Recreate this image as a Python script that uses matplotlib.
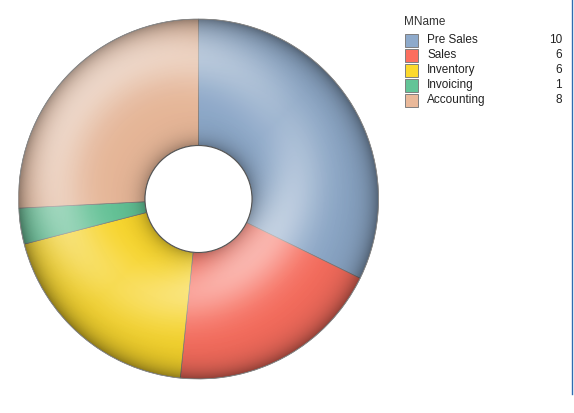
import numpy as np
import matplotlib.pyplot as plt
from matplotlib.patches import Rectangle, Wedge, Circle
from matplotlib.lines import Line2D

plt.rcParams["font.family"] = ["Liberation Sans", "DejaVu Sans"]

# data
names = ["Pre Sales", "Sales", "Inventory", "Invoicing", "Accounting"]
counts = [10, 6, 6, 1, 8]
colors = ["#8eaacb", "#fc6f5f", "#fcd92c", "#63c497", "#eab99a"]

W, H = 574, 413
fig = plt.figure(figsize=(W / 100, H / 100), dpi=100)

# donut axes: centre (198, 199) px, radius 180 px
cx, cy, r = 198.5, 199, 180
ax = fig.add_axes([(cx - r) / W, (H - cy - r) / H, 2 * r / W, 2 * r / H])

inner = 53.5 / r
wedges, _ = ax.pie(counts, colors=colors, startangle=90, counterclock=False,
                   radius=1, wedgeprops=dict(width=1 - inner, edgecolor="#7a7a7a",
                                             linewidth=0.5))
ax.set_xlim(-1, 1)
ax.set_ylim(-1, 1)
ax.set_aspect("equal")
ax.axis("off")

# fake 3D shading on the ring (torus lit from the upper left)
n = 700
xs = np.linspace(-1, 1, n)
X, Y = np.meshgrid(xs, xs)
R = np.hypot(X, Y)
t = np.clip((R - inner) / (1 - inner), 0, 1)
ang = np.arctan2(Y, X)
c = np.cos(ang - np.radians(135))
# darker only close to the edges
dark = 0.3 * np.exp(-t / 0.08) + 0.38 * np.exp(-(1 - t) / 0.09) + 0.05 * t
shade = np.zeros((n, n, 4))
shade[..., 3] = np.clip(dark, 0, 1)
im = ax.imshow(shade, extent=(-1, 1, -1, 1), origin="lower", zorder=3)
th = 0.5 + 0.3 * c
spec = np.exp(-((t - th) / 0.26) ** 2) * (0.2 + 0.3 * np.abs(c))
hl = np.zeros((n, n, 4))
hl[..., :3] = 1
hl[..., 3] = np.clip(spec, 0, 1)
im2 = ax.imshow(hl, extent=(-1, 1, -1, 1), origin="lower", zorder=3)
ring = Wedge((0, 0), 1, 0, 360, width=1 - inner, transform=ax.transData)
im.set_clip_path(ring)
im2.set_clip_path(ring)
ax.add_patch(Circle((0, 0), inner, facecolor="white", edgecolor="#555555",
                    linewidth=0.8, zorder=4))
ax.add_patch(Circle((0, 0), 1, facecolor="none", edgecolor="#8a8a8a",
                    linewidth=0.6, zorder=4))

# legend drawn by hand
fs = 8.5
fig.text(404 / W, 1 - 22 / H, "MName", fontsize=fs, color="#333333", va="center")
for i, (nm, c, v) in enumerate(zip(names, colors, counts)):
    y = 40 + 15 * i
    fig.patches.append(Rectangle((405 / W, 1 - (y + 6.5) / H), 13 / W, 13 / H,
                                 transform=fig.transFigure, facecolor=c,
                                 edgecolor="#7f7f7f", linewidth=0.7))
    fig.text(427 / W, 1 - y / H, nm, fontsize=fs, color="#222222", va="center")
    fig.text(562 / W, 1 - y / H, str(v), fontsize=fs, color="#222222",
             va="center", ha="right")

# thin vertical border on the right
fig.lines.append(Line2D([571.5 / W, 571.5 / W], [1, 1 - 394 / H],
                        transform=fig.transFigure, color="#2f6bb0", linewidth=1))

fig.savefig("out.png", dpi=100)
